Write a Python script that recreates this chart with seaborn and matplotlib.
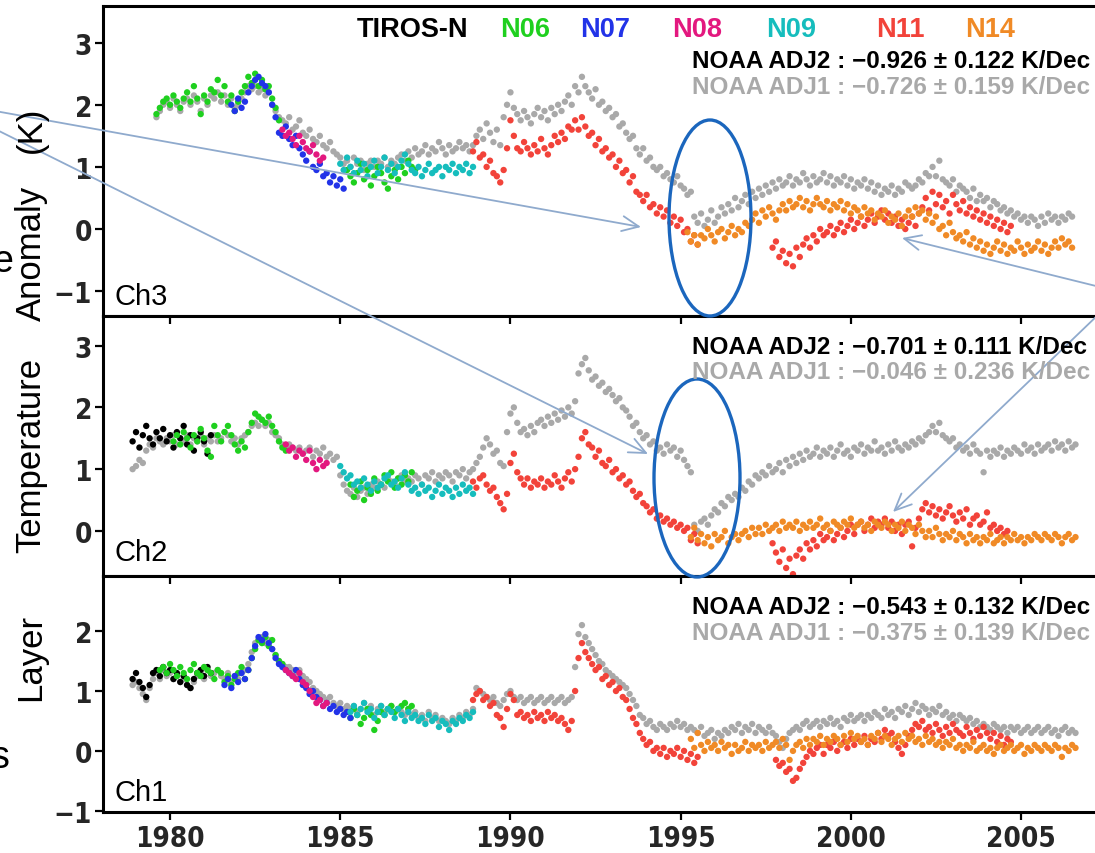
import numpy as np
import pandas as pd
import matplotlib
matplotlib.use("Agg")
import matplotlib.pyplot as plt
import seaborn as sns
from matplotlib import font_manager as fm
from matplotlib.font_manager import FontProperties
from matplotlib.patches import Ellipse, FancyArrowPatch

# ---------------------------------------------------------------- data
STEP = 0.1  # years between successive points of a series
satellites = ["ADJ1", "TIROS-N", "N06", "N07", "N08", "N09", "N11", "N14"]
sat_colors = ["#A9A9A9", "#000000", "#1FD01F", "#2233E8", "#E3187F",
              "#16BDBD", "#F2433A", "#F08A26"]
legend_names = ["TIROS-N", "N06", "N07", "N08", "N09", "N11", "N14"]
year_ticks = [1980, 1985, 1990, 1995, 2000, 2005]
panel_names = ["Ch3", "Ch2", "Ch1"]
panel_yticks = [[-1, 0, 1, 2, 3], [0, 1, 2, 3], [-1, 0, 1, 2]]
trend_adj2 = ["\u22120.926 \u00b1 0.122", "\u22120.701 \u00b1 0.111", "\u22120.543 \u00b1 0.132"]
trend_adj1 = ["\u22120.726 \u00b1 0.159", "\u22120.046 \u00b1 0.236", "\u22120.375 \u00b1 0.139"]

# ---- Ch3
ch3_adj1_start = 1979.6
ch3_adj1 = [1.8, 1.9, 2.0, 2.05, 1.95, 2.1, 2.0, 1.9, 2.05, 2.1, 2.0, 2.15, 2.05, 1.9, 2.1,
            2.0, 2.15, 2.1, 2.2, 2.05, 2.15, 2.0, 2.1, 1.95, 2.0, 2.1, 2.2, 2.3, 2.25, 2.3,
            2.2, 2.25, 2.15, 2.2, 2.0, 1.9, 1.8,
            1.75, 1.7, 1.8, 1.6, 1.65, 1.75, 1.55, 1.5, 1.6, 1.45, 1.4, 1.5, 1.35, 1.3, 1.4,
            1.25, 1.2,
            1.15, 1.05, 1.1, 1.0, 1.15, 1.05, 1.1, 0.95, 1.05, 1.1, 1.0, 1.1, 1.05, 1.15, 1.0,
            1.1, 1.05, 1.15, 1.2, 1.1, 1.25, 1.15, 1.3, 1.2, 1.25, 1.35, 1.2, 1.3, 1.25, 1.4,
            1.3, 1.2, 1.35, 1.25, 1.3, 1.4, 1.3, 1.35, 1.25,
            1.35, 1.5, 1.6, 1.45, 1.7, 1.55, 1.4, 1.6, 1.35, 1.8, 2.0, 2.2, 1.95, 1.85, 1.75,
            1.9, 1.8, 1.7, 1.85, 1.95, 1.8, 1.9, 1.75, 1.95, 1.85, 2.0, 1.9, 2.05, 2.15, 2.0,
            2.3, 2.2, 2.45, 2.3, 2.2, 2.1, 2.25, 2.0, 2.05, 1.9, 1.95, 1.8, 1.85, 1.65, 1.7,
            1.55, 1.45, 1.5, 1.3, 1.2, 1.3, 1.1, 1.15, 1.0, 0.95, 1.0, 0.85, 0.9, 0.8, 0.75,
            0.85, 0.7, 0.65, 0.55, 0.6,
            0.2, 0.1, 0.25, 0.05, 0.15, 0.3, 0.1, 0.2, 0.35, 0.25, 0.4, 0.3, 0.5, 0.35, 0.45,
            0.55, 0.4, 0.6, 0.5, 0.65, 0.55, 0.7, 0.6, 0.75, 0.65, 0.8, 0.7, 0.75, 0.85, 0.7,
            0.8, 0.75, 0.9, 0.8, 0.7, 0.85, 0.75, 0.8, 0.9, 0.75, 0.85, 0.7, 0.8, 0.75, 0.85,
            0.7, 0.8, 0.65, 0.75, 0.7, 0.8, 0.65, 0.75, 0.6, 0.7, 0.55, 0.65, 0.6, 0.7, 0.55,
            0.65, 0.6, 0.75, 0.7, 0.65, 0.7, 0.8, 0.75, 0.9, 0.85, 1.0, 0.85, 1.1, 0.8, 0.75,
            0.7, 0.8, 0.6, 0.7, 0.65, 0.6, 0.5, 0.65, 0.45, 0.55, 0.45, 0.5, 0.35, 0.45, 0.4,
            0.3, 0.35, 0.25, 0.3, 0.2, 0.25, 0.15, 0.2, 0.1, 0.2, 0.15, 0.05, 0.2, 0.1, 0.25,
            0.15, 0.2, 0.1, 0.2, 0.15, 0.25, 0.2]
ch3_n06a_start = 1979.6
ch3_n06a = [1.85, 1.95, 2.05, 2.1, 2.0, 2.15, 2.05, 1.95, 2.1, 2.2, 2.05, 2.3, 2.1, 1.85, 2.15,
            2.05, 2.25, 2.2, 2.4, 2.15, 2.3, 2.05, 2.15, 1.9, 2.05, 2.2, 2.3, 2.45, 2.35, 2.5,
            2.3, 2.4, 2.25, 2.3, 2.1, 1.95, 1.75]
ch3_n07_start = 1981.8
ch3_n07 = [2.0, 1.9, 2.1, 1.95, 2.05, 2.2, 2.3, 2.4, 2.45, 2.35, 2.3, 2.2, 2.0, 1.8, 1.55,
           1.5, 1.65, 1.45, 1.35, 1.5, 1.3, 1.2, 1.1, 1.25, 1.0, 0.95, 1.05, 0.85, 0.9, 0.75,
           0.85, 0.7, 0.8, 0.65]
ch3_n08_start = 1983.3
ch3_n08 = [1.6, 1.5, 1.55, 1.45, 1.35, 1.5, 1.4, 1.3, 1.25, 1.35, 1.2, 1.1, 1.15]
ch3_n09_start = 1985.0
ch3_n09 = [1.05, 0.95, 1.15, 1.0, 0.9, 1.1, 0.95, 1.05, 0.85, 1.0, 1.1, 0.9, 1.0, 1.15, 0.95,
           1.05, 0.9, 1.0, 1.1, 1.2, 1.05, 0.95, 0.9, 1.0, 0.85, 0.95, 1.05, 0.9, 0.95, 1.0,
           0.85, 1.0, 0.95, 1.05, 0.9, 1.0, 0.95, 1.05, 0.9, 1.0]
ch3_n06b_start = 1985.2
ch3_n06b = [0.95, 0.85, 0.75, 0.9, 1.05, 0.8, 0.95, 0.7, 0.85, 1.0, 0.9, 0.75, 0.65, 0.85,
            0.95, 0.8, 1.0, 0.9, 1.1, 1.0, 0.95]
ch3_n11a_start = 1988.9
ch3_n11a = [1.25, 1.4, 1.15, 1.2, 1.0, 1.1, 0.9, 0.85, 0.75, 0.95, 1.3, 1.75, 1.5, 1.3, 1.25,
            1.4, 1.3, 1.2, 1.35, 1.25, 1.45, 1.3, 1.2, 1.35, 1.5, 1.4, 1.55, 1.45, 1.65, 1.6,
            1.75, 1.6, 1.8, 1.65, 1.5, 1.55, 1.35, 1.45, 1.25, 1.3, 1.15, 1.2, 1.0, 1.1, 0.9,
            0.95, 0.75, 0.85, 0.6, 0.55, 0.45, 0.55, 0.35, 0.4, 0.25, 0.35, 0.2, 0.3, 0.1, 0.2,
            0.05, 0.15, -0.05, 0.0, -0.2, -0.1, -0.25]
ch3_n11b_start = 1997.7
ch3_n11b = [-0.3, -0.2, -0.45, -0.35, -0.55, -0.4, -0.6, -0.3, -0.45, -0.25, -0.15, -0.3, -0.1,
            -0.2, 0.0, -0.1, -0.05, 0.05, -0.1, 0.0, 0.1, -0.05, 0.05, 0.15, 0.0, 0.1, 0.2, 0.05,
            0.15, 0.25, 0.1, 0.2, 0.3, 0.15, 0.25, 0.1, 0.2, 0.05, 0.15, 0.0, 0.1, 0.2, 0.05,
            0.25, 0.35, 0.5, 0.3, 0.6, 0.4, 0.55, 0.35, 0.45, 0.25, 0.55, 0.4, 0.3, 0.45, 0.25,
            0.35, 0.2, 0.3, 0.15, 0.25, 0.1, 0.2, 0.05, 0.15, 0.0, 0.1, -0.05, 0.05]
ch3_n14_start = 1995.2
ch3_n14 = [-0.05, -0.2, -0.1, -0.25, -0.1, -0.15, 0.0, -0.1, -0.2, -0.05, 0.0, -0.15, -0.05,
           0.05, -0.1, 0.0, -0.05, 0.1, 0.05, 0.15, 0.25, 0.1, 0.3, 0.2, 0.35, 0.25, 0.15, 0.3,
           0.4, 0.3, 0.45, 0.35, 0.4, 0.5, 0.35, 0.45, 0.3, 0.4, 0.5, 0.4, 0.35, 0.45, 0.3, 0.4,
           0.35, 0.45, 0.3, 0.4, 0.25, 0.35, 0.3, 0.2, 0.35, 0.25, 0.3, 0.15, 0.25, 0.2, 0.3,
           0.1, 0.2, 0.15, 0.25, 0.05, 0.2, 0.3, 0.2, 0.35, 0.25, 0.3, 0.15, 0.25, 0.1, 0.2, 0.0,
           0.05, -0.1, 0.1, -0.05, -0.15, -0.1, -0.2, -0.05, -0.25, -0.15, -0.3, -0.2, -0.35,
           -0.25, -0.4, -0.3, -0.2, -0.35, -0.25, -0.4, -0.3, -0.35, -0.2, -0.3, -0.4, -0.25,
           -0.35, -0.3, -0.2, -0.35, -0.25, -0.4, -0.3, -0.2, -0.3, -0.15, -0.25, -0.2, -0.3]

# ---- Ch2
ch2_adj1_start = 1978.9
ch2_adj1 = [1.0, 1.05, 1.15, 1.1, 1.3, 1.4, 1.35, 1.5, 1.45, 1.4, 1.5, 1.45, 1.55, 1.4, 1.5,
            1.45, 1.55, 1.4, 1.5, 1.45, 1.55, 1.4, 1.5, 1.45,
            1.55, 1.45, 1.5, 1.6, 1.55, 1.45, 1.5, 1.4, 1.5, 1.55, 1.6, 1.7, 1.75, 1.7, 1.8,
            1.7, 1.75, 1.6, 1.55, 1.5, 1.4, 1.35,
            1.4, 1.35, 1.3, 1.35, 1.25, 1.3, 1.35, 1.2, 1.3, 1.25, 1.35, 1.2, 1.25, 1.15, 1.2,
            0.9, 0.75, 0.65, 0.6, 0.7, 0.55, 0.65, 0.7, 0.6, 0.75, 0.7, 0.8, 0.75, 0.7, 0.85,
            0.8, 0.75, 0.85, 0.9, 0.8, 0.85, 0.8, 0.9, 0.85, 0.75, 0.9, 0.85, 0.95, 0.8, 0.9,
            0.85, 0.95, 0.9, 0.8, 0.95, 0.9, 1.0, 0.85, 0.95, 1.0,
            1.1, 1.2, 1.35, 1.5, 1.4, 1.25, 1.3, 1.1, 1.05, 1.6, 1.9, 2.0, 1.75, 1.6, 1.65,
            1.55, 1.7, 1.6, 1.75, 1.8, 1.7, 1.85, 1.75, 1.9, 1.8, 1.95, 1.85, 2.0, 1.9, 2.1,
            2.55, 2.7, 2.8, 2.6, 2.45, 2.5, 2.35, 2.4, 2.25, 2.3, 2.2, 2.1, 2.15, 2.0, 1.95,
            1.85, 1.7, 1.75, 1.6, 1.5, 1.55, 1.4, 1.45, 1.3, 1.35, 1.25, 1.4, 1.3, 1.35, 1.2,
            1.3, 1.15, 1.05, 0.95,
            0.1, 0.0, 0.15, 0.2, 0.1, 0.25, 0.35, 0.3, 0.45, 0.4, 0.55, 0.5, 0.6, 0.55, 0.7,
            0.65, 0.8, 0.75, 0.9, 0.85, 0.95, 0.9, 1.05, 0.95, 1.0, 1.1, 0.95, 1.15, 1.05, 1.2,
            1.1, 1.25, 1.15, 1.3, 1.2, 1.25, 1.35, 1.2, 1.3, 1.25, 1.35, 1.2, 1.3, 1.4, 1.25,
            1.3, 1.2, 1.35, 1.3, 1.4, 1.25, 1.35, 1.3, 1.45, 1.3, 1.35, 1.25, 1.4, 1.3, 1.45,
            1.35, 1.3, 1.4, 1.35, 1.45, 1.4, 1.5, 1.45, 1.55, 1.6, 1.7, 1.6, 1.75, 1.55, 1.5,
            1.45, 1.5, 1.35, 1.4, 1.3, 1.35, 1.25, 1.4, 1.3, 1.25, 0.95, 1.3, 1.2, 1.3, 1.25,
            1.35, 1.2, 1.3, 1.25, 1.35, 1.3, 1.25, 1.4, 1.3, 1.35, 1.25, 1.4, 1.3, 1.35, 1.4,
            1.3, 1.45, 1.35, 1.4, 1.3, 1.45, 1.35, 1.4]
ch2_tiros_start = 1978.9
ch2_tiros = [1.45, 1.6, 1.35, 1.55, 1.7, 1.5, 1.4, 1.6, 1.5, 1.65, 1.45, 1.55, 1.35, 1.6, 1.5,
             1.7, 1.4, 1.55, 1.3, 1.5, 1.6, 1.45, 1.25, 1.55]
ch2_n06a_start = 1980.1
ch2_n06a = [1.45, 1.55, 1.4, 1.6, 1.5, 1.35, 1.55, 1.45, 1.65, 1.5, 1.3, 1.2, 1.7, 1.55, 1.45,
            1.6, 1.7, 1.55, 1.4, 1.3, 1.45, 1.35, 1.6, 1.75, 1.9, 1.85, 1.8, 1.75, 1.85, 1.7,
            1.6, 1.45, 1.35, 1.3]
ch2_n08_start = 1983.4
ch2_n08 = [1.4, 1.3, 1.35, 1.2, 1.3, 1.25, 1.15, 1.3, 1.1, 1.0, 1.15, 1.05, 1.1]
ch2_n09_start = 1985.0
ch2_n09 = [1.05, 0.95, 0.85, 0.9, 0.75, 0.8, 0.7, 0.85, 0.75, 0.65, 0.8, 0.7, 0.75, 0.85, 0.9,
           0.75, 0.8, 0.7, 0.85, 0.95, 0.75, 0.65, 0.7, 0.6, 0.75, 0.65, 0.7, 0.55, 0.65, 0.75,
           0.6, 0.7, 0.65, 0.55, 0.7, 0.6, 0.75, 0.65, 0.7, 0.6]
ch2_n06b_start = 1985.3
ch2_n06b = [0.75, 0.55, 0.65, 0.8, 0.5, 0.7, 0.6, 0.85, 0.65, 0.75, 0.9, 0.8, 0.95, 0.7, 0.85,
            0.75, 0.9, 0.8, 0.95]
ch2_n11a_start = 1988.9
ch2_n11a = [0.8, 0.7, 0.85, 0.9, 0.75, 0.65, 0.7, 0.55, 0.45, 0.35, 0.6, 1.1, 1.25, 0.95, 0.85,
            0.75, 0.85, 0.7, 0.8, 0.75, 0.85, 0.7, 0.8, 0.75, 0.9, 0.8, 0.7, 0.85, 0.95, 0.8,
            1.0, 1.2, 1.5, 1.6, 1.4, 1.35, 1.2, 1.3, 1.1, 1.05, 1.15, 0.95, 1.0, 0.85, 0.9,
            0.75, 0.8, 0.65, 0.55, 0.6, 0.45, 0.4, 0.3, 0.35, 0.2, 0.25, 0.15, 0.2, 0.1, 0.15,
            0.05, 0.1, 0.0, 0.05, -0.15, -0.05, -0.2]
ch2_n11b_start = 1997.7
ch2_n11b = [-0.2, -0.35, -0.5, -0.3, -0.6, -0.45, -0.7, -0.4, -0.3, -0.45, -0.2, -0.3, -0.15,
            -0.25, -0.05, -0.15, -0.1, 0.0, -0.15, -0.05, 0.05, -0.1, 0.0, 0.1, -0.05, 0.1, 0.15,
            0.0, 0.1, 0.2, 0.05, 0.15, 0.1, 0.2, 0.05, 0.15, 0.0, 0.1, -0.05, 0.1, 0.15, -0.25,
            0.05, 0.2, 0.35, 0.45, 0.3, 0.4, 0.25, 0.35, 0.2, 0.3, 0.4, 0.25, 0.15, 0.3, 0.2,
            0.35, 0.1, 0.2, 0.25, 0.1, 0.15, 0.3, 0.05, 0.1, 0.0, 0.05, -0.05, 0.0]
ch2_n14_start = 1995.3
ch2_n14 = [-0.1, 0.05, -0.15, -0.05, -0.2, -0.1, -0.25, -0.05, -0.15, -0.1, 0.0, -0.2, -0.1,
           -0.05, -0.15, -0.05, 0.0, -0.1, 0.05, -0.05, 0.05, -0.05, 0.1, 0.0, 0.05, 0.1, 0.0,
           0.15, 0.05, 0.1, 0.05, 0.15, 0.0, 0.1, 0.05, 0.15, 0.05, 0.1, 0.2, 0.05, 0.1, 0.0,
           0.15, 0.1, 0.05, 0.15, 0.1, 0.2, 0.05, 0.1, 0.15, 0.05, 0.1, 0.0, 0.15, 0.1, 0.05,
           0.15, 0.1, 0.0, 0.1, 0.05, 0.15, 0.0, 0.1, 0.05, -0.05, 0.1, 0.0, -0.1, 0.0, -0.1,
           0.05, -0.05, -0.15, -0.05, -0.1, 0.0, -0.15, -0.05, -0.1, -0.2, -0.05, -0.15, -0.1,
           -0.2, -0.1, -0.15, -0.05, -0.2, -0.15, -0.1, -0.2, -0.1, -0.15, -0.05, -0.15, -0.1,
           -0.2, -0.1, -0.15, -0.05, -0.1, -0.15, -0.05, -0.1, -0.15, -0.05, -0.1, -0.2, -0.1,
           -0.05, -0.15, -0.1]

# ---- Ch1
ch1_adj1_start = 1978.9
ch1_adj1 = [1.1, 1.15, 1.05, 0.95, 0.85, 1.05, 1.2, 1.3, 1.2, 1.35, 1.25, 1.3, 1.2, 1.25, 1.15,
            1.2, 1.1, 1.05, 1.15, 1.25, 1.3, 1.2, 1.35, 1.25,
            1.3, 1.35, 1.25, 1.2, 1.3, 1.15, 1.25, 1.2, 1.3, 1.35, 1.45, 1.65, 1.8, 1.85, 1.9,
            1.8, 1.85, 1.7, 1.6, 1.5, 1.45, 1.4,
            1.4, 1.35, 1.3, 1.35, 1.25, 1.2, 1.15, 1.05, 1.0, 0.95, 0.9, 0.85, 0.9, 0.8, 0.75,
            0.8, 0.7, 0.75,
            0.7, 0.75, 0.65, 0.7, 0.8, 0.7, 0.75, 0.6, 0.7, 0.75, 0.65, 0.7, 0.75, 0.65, 0.7,
            0.65, 0.6, 0.7, 0.6, 0.65, 0.55, 0.6, 0.5, 0.65, 0.55, 0.6, 0.5, 0.55, 0.5, 0.45,
            0.55, 0.5, 0.6, 0.55, 0.65, 0.6, 0.7,
            1.05, 1.0, 0.95, 0.9, 0.85, 0.9, 0.8, 0.75, 0.85, 0.95, 1.0, 0.9, 0.85, 0.9, 0.8,
            0.85, 0.9, 0.8, 0.85, 0.9, 0.8, 0.85, 0.9, 0.8, 0.85, 0.9, 0.8, 0.85, 0.9, 1.4,
            1.95, 2.1, 1.9, 1.8, 1.7, 1.6, 1.5, 1.45, 1.35, 1.3, 1.25, 1.2, 1.15, 1.1, 1.05,
            0.95, 0.85, 0.75, 0.6, 0.55, 0.45, 0.5, 0.4, 0.35, 0.45, 0.4, 0.35, 0.45, 0.4, 0.5,
            0.4, 0.45, 0.35, 0.4,
            0.35, 0.3, 0.4, 0.25, 0.3, 0.35, 0.2, 0.3, 0.25, 0.35, 0.3, 0.4, 0.35, 0.45, 0.3,
            0.4, 0.35, 0.45, 0.3, 0.4, 0.35, 0.3, 0.4, 0.3, 0.25, 0.15, 0.05, 0.2, 0.3, 0.35,
            0.4, 0.35, 0.45, 0.5, 0.4, 0.45, 0.5, 0.4, 0.5, 0.45, 0.55, 0.45, 0.5, 0.4, 0.55,
            0.5, 0.6, 0.5, 0.55, 0.6, 0.5, 0.6, 0.55, 0.65, 0.6, 0.55, 0.7, 0.6, 0.65, 0.55,
            0.7, 0.65, 0.75, 0.6, 0.7, 0.8, 0.65, 0.75, 0.7, 0.6, 0.7, 0.65, 0.75, 0.6, 0.65,
            0.55, 0.6, 0.5, 0.6, 0.55, 0.5, 0.55, 0.45, 0.5, 0.4, 0.45, 0.4, 0.35, 0.45, 0.4,
            0.35, 0.4, 0.3, 0.4, 0.35, 0.4, 0.3, 0.35, 0.4, 0.3, 0.35, 0.4, 0.3, 0.35, 0.4,
            0.3, 0.35, 0.25, 0.35, 0.4, 0.3, 0.35, 0.3]
ch1_tiros_start = 1978.9
ch1_tiros = [1.2, 1.3, 1.15, 1.05, 0.9, 1.1, 1.3, 1.35, 1.25, 1.4, 1.3, 1.35, 1.2, 1.3, 1.15,
             1.25, 1.1, 1.05, 1.2, 1.3, 1.35, 1.25, 1.4, 1.3]
ch1_n06a_start = 1979.7
ch1_n06a = [1.35, 1.4, 1.3, 1.45, 1.35, 1.25, 1.4, 1.3, 1.2, 1.35, 1.45, 1.3, 1.25, 1.4, 1.35,
            1.3, 1.2, 1.35, 1.3, 1.15, 1.25, 1.1, 1.2, 1.3, 1.4, 1.2, 1.35, 1.55, 1.7, 1.85,
            1.8, 1.9, 1.75, 1.85, 1.6, 1.5, 1.45]
ch1_n07_start = 1981.6
ch1_n07 = [1.1, 1.2, 1.05, 1.25, 1.15, 1.3, 1.2, 1.35, 1.55, 1.75, 1.9, 1.85, 1.95, 1.8, 1.7,
           1.55, 1.45, 1.4, 1.35, 1.3, 1.25, 1.35, 1.2, 1.1, 1.05, 0.95, 1.0, 0.9, 0.85, 0.75,
           0.8, 0.7, 0.75, 0.65, 0.7, 0.6, 0.65, 0.55]
ch1_n08_start = 1983.4
ch1_n08 = [1.35, 1.3, 1.25, 1.2, 1.3, 1.15, 1.1, 1.0, 0.9, 0.8, 0.85, 0.75, 0.8]
ch1_n09_start = 1985.3
ch1_n09 = [0.65, 0.75, 0.6, 0.7, 0.8, 0.65, 0.7, 0.55, 0.65, 0.75, 0.6, 0.7, 0.65, 0.55, 0.7,
           0.6, 0.5, 0.65, 0.55, 0.6, 0.5, 0.55, 0.45, 0.6, 0.5, 0.55, 0.4, 0.5, 0.45, 0.35,
           0.5, 0.45, 0.55, 0.5, 0.6, 0.55, 0.65]
ch1_n06b_start = 1985.3
ch1_n06b = [0.55, 0.7, 0.6, 0.45, 0.55, 0.7, 0.6, 0.35, 0.5, 0.65, 0.6, 0.7, 0.75, 0.65, 0.7,
            0.75, 0.8, 0.7, 0.75]
ch1_n11a_start = 1988.9
ch1_n11a = [0.85, 0.95, 1.0, 0.85, 0.9, 0.75, 0.8, 0.6, 0.55, 0.4, 0.7, 0.95, 0.85, 0.6, 0.65,
            0.55, 0.6, 0.5, 0.65, 0.55, 0.6, 0.5, 0.65, 0.55, 0.6, 0.5, 0.55, 0.45, 0.35, 0.5,
            1.0, 1.55, 1.8, 1.65, 1.55, 1.45, 1.35, 1.4, 1.2, 1.25, 1.1, 1.15, 1.0, 1.05, 0.9,
            0.85, 0.7, 0.55, 0.45, 0.3, 0.2, 0.1, 0.15, 0.0, 0.05, -0.05, 0.05, -0.1, 0.0, -0.05,
            0.05, -0.1, 0.0, -0.15, -0.05, -0.2, -0.1]
ch1_n11b_start = 1997.8
ch1_n11b = [-0.15, -0.25, -0.2, -0.35, -0.3, -0.5, -0.45, -0.3, -0.2, -0.1, 0.0, -0.05, 0.05,
            0.1, -0.05, 0.1, 0.05, 0.15, 0.0, 0.1, 0.15, 0.05, 0.2, 0.1, 0.2, 0.15, 0.25, 0.1,
            0.2, 0.15, 0.3, 0.2, 0.35, 0.25, 0.3, 0.15, 0.05, -0.05, 0.1, 0.25, 0.35, 0.45, 0.4,
            0.5, 0.35, 0.4, 0.3, 0.45, 0.35, 0.25, 0.4, 0.3, 0.45, 0.35, 0.3, 0.25, 0.4, 0.3,
            0.2, 0.35, 0.25, 0.4, 0.3, 0.2, 0.3, 0.15, 0.25, 0.1, 0.2, 0.15]
ch1_n14_start = 1995.3
ch1_n14 = [0.2, 0.05, 0.3, 0.1, 0.0, 0.15, 0.05, 0.1, 0.0, 0.15, 0.05, 0.1, -0.05, 0.1, 0.0,
           0.05, 0.15, 0.0, 0.1, 0.05, 0.1, 0.0, 0.15, 0.05, 0.1, 0.15, 0.05, 0.2, 0.1, -0.15,
           0.0, 0.1, 0.15, 0.05, 0.2, 0.1, 0.2, 0.15, 0.25, 0.1, 0.2, 0.15, 0.25, 0.2, 0.1,
           0.25, 0.15, 0.3, 0.2, 0.25, 0.15, 0.2, 0.1, 0.25, 0.2, 0.3, 0.15, 0.25, 0.2, 0.1,
           0.2, 0.25, 0.15, 0.3, 0.2, 0.25, 0.15, 0.2, 0.1, 0.25, 0.15, 0.2, 0.1, 0.15, 0.05,
           0.15, 0.1, 0.2, 0.05, 0.1, 0.0, 0.1, 0.05, 0.15, 0.0, 0.05, 0.1, 0.0, 0.05, -0.05,
           0.05, 0.1, 0.0, 0.05, 0.1, 0.0, 0.05, 0.1, -0.05, 0.05, 0.0, 0.1, 0.05, 0.0, 0.1,
           0.05, 0.0, 0.1, 0.05, -0.1, 0.05, 0.0, 0.1, 0.05]

panel_series = [
    [("ADJ1", ch3_adj1_start, ch3_adj1), ("N06", ch3_n06a_start, ch3_n06a),
     ("N07", ch3_n07_start, ch3_n07), ("N08", ch3_n08_start, ch3_n08),
     ("N09", ch3_n09_start, ch3_n09), ("N06", ch3_n06b_start, ch3_n06b),
     ("N11", ch3_n11a_start, ch3_n11a), ("N14", ch3_n14_start, ch3_n14),
     ("N11", ch3_n11b_start, ch3_n11b)],
    [("ADJ1", ch2_adj1_start, ch2_adj1), ("TIROS-N", ch2_tiros_start, ch2_tiros),
     ("N06", ch2_n06a_start, ch2_n06a), ("N08", ch2_n08_start, ch2_n08),
     ("N09", ch2_n09_start, ch2_n09), ("N06", ch2_n06b_start, ch2_n06b),
     ("N11", ch2_n11a_start, ch2_n11a), ("N14", ch2_n14_start, ch2_n14),
     ("N11", ch2_n11b_start, ch2_n11b)],
    [("ADJ1", ch1_adj1_start, ch1_adj1), ("TIROS-N", ch1_tiros_start, ch1_tiros),
     ("N06", ch1_n06a_start, ch1_n06a), ("N07", ch1_n07_start, ch1_n07),
     ("N08", ch1_n08_start, ch1_n08), ("N09", ch1_n09_start, ch1_n09),
     ("N06", ch1_n06b_start, ch1_n06b), ("N11", ch1_n11a_start, ch1_n11a),
     ("N14", ch1_n14_start, ch1_n14), ("N11", ch1_n11b_start, ch1_n11b)],
]

# ---------------------------------------------------------------- style
sns.set_style("white")
available = {f.name for f in fm.fontManager.ttflist}
BASE = "Liberation Sans" if "Liberation Sans" in available else "DejaVu Sans"
plt.rcParams["font.family"] = [BASE, "DejaVu Sans"]
if "Liberation Sans Narrow" in available:
    tick_font = FontProperties(family="Liberation Sans Narrow", weight="bold", size=22)
else:
    tick_font = FontProperties(family="DejaVu Sans", weight="bold", stretch="condensed", size=20)

W, H = 1095, 854
fig = plt.figure(figsize=(W / 100, H / 100), dpi=100)


def fx(x):
    return x / W


def fy(y):
    return 1 - y / H


palette = dict(zip(satellites, sat_colors))
panel_px = [(7, 317), (317, 577), (577, 813)]
panel_ylim = [(-1.40, 3.59), (-0.73, 3.48), (-1.02, 2.92)]
XLIM = (1978.03, 2007.32)

axes = []
for i, (series, (top, bot)) in enumerate(zip(panel_series, panel_px)):
    ax = fig.add_axes([fx(103), fy(bot), fx(1100) - fx(103), (bot - top) / H])
    frames = []
    for sat, start, vals in series:
        yrs = np.round(start + STEP * np.arange(len(vals)), 2)
        frames.append(pd.DataFrame({"year": yrs, "anom": vals, "sat": sat}))
    df = pd.concat(frames, ignore_index=True)
    df["order"] = df["sat"].map({s: k for k, s in enumerate(satellites)})
    df = df.sort_values("order", kind="stable")
    sns.scatterplot(data=df, x="year", y="anom", hue="sat", hue_order=satellites,
                    palette=palette, s=21, linewidth=0, legend=False, ax=ax)
    ax.set_xlim(*XLIM)
    ax.set_ylim(*panel_ylim[i])
    ax.set_xlabel("")
    ax.set_ylabel("")
    for sp in ax.spines.values():
        sp.set_linewidth(2.2)
        sp.set_color("black")
    ax.spines["right"].set_visible(False)
    ax.set_yticks(panel_yticks[i])
    ax.set_yticklabels([str(v).replace("-", "\u2212") for v in panel_yticks[i]],
                       fontproperties=tick_font)
    ax.tick_params(axis="y", which="major", left=True, direction="out", length=6,
                   width=1.6, pad=2, color="black")
    ax.set_xticks(year_ticks)
    if i == 2:
        ax.set_xticklabels([str(y) for y in year_ticks], fontproperties=tick_font)
        ax.tick_params(axis="x", which="major", bottom=True, direction="out", length=6,
                       width=1.6, pad=3, color="black")
    else:
        ax.tick_params(axis="x", bottom=False, labelbottom=False)
    if i > 0:
        sec = ax.secondary_xaxis("top")
        sec.set_xticks(year_ticks)
        sec.tick_params(axis="x", direction="in", length=6, width=1.6, labeltop=False,
                        color="black")
        sec.spines["top"].set_visible(False)
    axes.append(ax)

# ---------------------------------------------------------------- texts
legend_x = [357, 500, 580, 672, 766, 876, 965]
for name, x in zip(legend_names, legend_x):
    fig.text(fx(x), fy(30), name, color=palette[name], fontsize=19.5, fontweight="bold",
             ha="left", va="center")

stat_rows = [(62, 87), (348, 373), (608, 633)]
for (y2, y1), s2, s1 in zip(stat_rows, trend_adj2, trend_adj1):
    fig.text(fx(692), fy(y2), f"NOAA ADJ2 : {s2} K/Dec", color="black", fontsize=17.5,
             fontweight="bold", ha="left", va="center")
    fig.text(fx(692), fy(y1), f"NOAA ADJ1 : {s1} K/Dec", color="#A9A9A9", fontsize=17.5,
             fontweight="bold", ha="left", va="center")

for name, y in zip(panel_names, [297, 553, 793]):
    fig.text(fx(115), fy(y), name, fontsize=21, ha="left", va="center", color="black")

for word, y in [("Layer", 657), ("Temperature", 455), ("Anomaly", 253), ("(K)", 130)]:
    fig.text(fx(31), fy(y), word, fontsize=25, rotation=90, ha="center", va="center",
             color="black")

# fragments of slide text cut by the left picture edge (as in the reference)
fig.text(fx(13), fy(262), "e", fontsize=27, ha="right", va="center", color="black")
fig.text(fx(10), fy(758), "s", fontsize=27, ha="right", va="center", color="black")

# ---------------------------------------------------------------- annotations
arrow_color = "#8FAACD"
for (x0, y0), (x1, y1) in [((-5, 112), (641, 228)), ((-5, 130), (648, 455)),
                           ((1100, 288), (902, 239)), ((1100, 314), (893, 513))]:
    arr = FancyArrowPatch(posA=(fx(x0), fy(y0)), posB=(fx(x1), fy(y1)),
                          transform=fig.transFigure,
                          arrowstyle="->,head_length=1.0,head_width=0.45",
                          mutation_scale=12, color=arrow_color, lw=1.3, shrinkA=0, shrinkB=0)
    fig.add_artist(arr)

ell_color = "#1B66BD"
for (cx, cy, w, h) in [(710, 219, 82, 196), (697, 479, 86, 198)]:
    e = Ellipse((fx(cx), fy(cy)), width=w / W, height=h / H, transform=fig.transFigure,
                fill=False, edgecolor=ell_color, lw=2.4)
    fig.add_artist(e)

fig.savefig("out.png", dpi=100)
